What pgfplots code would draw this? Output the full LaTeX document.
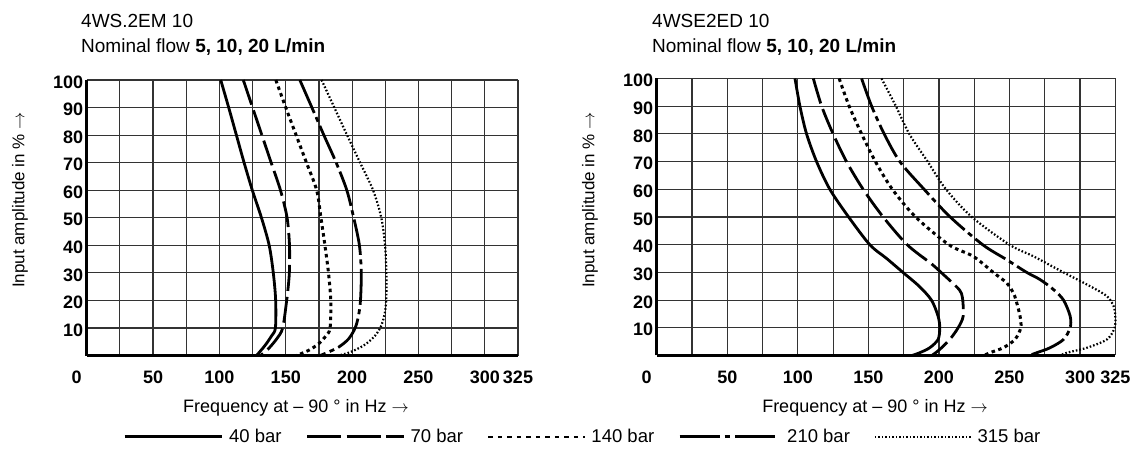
\documentclass[border=0pt]{standalone}
\usepackage{fontspec}
\setmainfont{Liberation Sans}
\usepackage{pgfplots}
\pgfplotsset{compat=1.18}

\pgfplotsset{
  rex/.style={
    scale only axis,
    axis x line=bottom, axis y line=left,
    axis line style={line width=3bp, black},
    every outer x axis line/.append style={-},
    every outer y axis line/.append style={-},
    xmin=0, xmax=325, ymin=0, ymax=100,
    xtick={0,25,...,325},
    xticklabels={\makebox[0pt][r]{0\hspace*{5bp}},,50,,100,,150,,200,,250,,300,325},
    ytick={10,20,...,100},
    yticklabels={10,20,30,40,50,60,70,80,90,100},
    grid=major,
    major grid style={line width=1.15bp, black!80},
    tick style={draw=none},
    major tick length=0pt,
    /pgf/number format/assume math mode=true,
    tick label style={font=\fontsize{18bp}{20bp}\selectfont\bfseries},
    xticklabel style={yshift=-12bp},
    yticklabel style={yshift=-2bp},
    clip=false,
  },
  b40/.style={black, line width=2.8bp, solid, smooth, tension=0.5},
  b70/.style={black, line width=2.8bp, dash pattern=on 26bp off 6bp, smooth, tension=0.5},
  b140/.style={black, line width=3bp, dash pattern=on 3.5bp off 3.5bp, smooth, tension=0.5},
  b210/.style={black, line width=2.8bp, dash pattern=on 36bp off 4.5bp on 5bp off 4.5bp, smooth, tension=0.5},
  b315/.style={black, line width=2.2bp, dash pattern=on 1.6bp off 2bp, smooth, tension=0.5},
}

\begin{document}
\begin{tikzpicture}
\path[use as bounding box] (0,0) rectangle (1138bp,451bp);

% ---------- left chart ----------
\begin{axis}[rex, name=L, at={(86.7bp,95.5bp)}, anchor=south west,
  width=431.3bp, height=275.5bp,
  legend columns=5,
  legend style={at={(0.0842,-0.2958)}, anchor=west, draw=none, fill=none,
    inner sep=0pt, font=\fontsize{18.5bp}{20bp}\selectfont,
    /tikz/every even column/.append style={column sep=22bp}},
  legend cell align=left,
]
\addplot[b40, legend image code/.code={\draw[line width=3bp] (0bp,0bp) -- (97bp,0bp);}] coordinates {
(101,100) (107,90) (112.8,80) (118.6,70) (124.8,60) (131.7,50) (137.5,40) (140.6,30) (142.4,20) (142.2,10) (139.4,7.2) (134.3,3.6) (128,0)};
\addlegendentry{\hspace*{4bp}40 bar}
\addplot[b70, legend image code/.code={\draw[line width=3bp, dash pattern=on 34bp off 5.5bp] (0bp,0bp) -- (97bp,0bp);}] coordinates {
(118,100) (125,90) (132,80) (139,70) (146,60) (151,50) (152.8,40) (152.7,30) (151.4,22.8) (150.7,20) (147.7,10) (143.1,6) (136.8,2.4) (131,0)};
\addlegendentry{\hspace*{3bp}70 bar}
\addplot[b140, legend image code/.code={\draw[line width=2.4bp, dash pattern=on 4.5bp off 5bp] (0bp,0bp) -- (97bp,0bp);}] coordinates {
(142.5,100) (150,90) (157.8,80) (165.6,70) (173.3,60) (176.5,50) (179.5,40) (182.2,30) (183.9,20) (183.4,10) (180.4,7.2) (174.6,4.2) (167,1.8) (158,0)};
\addlegendentry{\hspace*{3bp}140 bar}
\addplot[b210, legend image code/.code={\draw[line width=3bp, dash pattern=on 40bp off 5bp on 5.5bp off 5bp] (0bp,0bp) -- (97bp,0bp);}] coordinates {
(160.6,100) (169.7,90) (178.7,80) (188,70) (196,60) (201.2,50) (205.5,40) (206.9,30) (206.3,20) (204.8,14.4) (202.3,10) (197.3,6) (189.7,3) (180.9,1) (176,0)};
\addlegendentry{\hspace*{7bp}210 bar}
\addplot[b315, legend image code/.code={\draw[line width=1.6bp, dash pattern=on 1.5bp off 2bp] (0bp,0bp) -- (97bp,0bp);}] coordinates {
(177,100) (186.6,90) (196.2,80) (206,70) (215.8,60) (222,50) (224.8,40) (225.8,30) (225.7,20) (224.2,14.4) (221.2,10) (216.2,6.6) (208.6,3.6) (198.5,1.2) (190,0)};
\addlegendentry{\hspace*{3bp}315 bar}
\end{axis}

% ---------- right chart ----------
\begin{axis}[rex, name=R, at={(656.7bp,95.5bp)}, anchor=south west,
  width=458.6bp, height=277bp]
\addplot[b40] coordinates {
(98,100) (101.5,90) (106.2,80) (113.3,70) (122.7,60) (136,50) (151,40) (163,35) (174.5,30) (186,25) (194.7,20) (199.4,14.2) (200.6,10) (199.4,5.8) (193.5,2.8) (186.4,1) (181,0)};
\addplot[b70] coordinates {
(111,100) (116.9,90) (125,80) (134.5,70) (146.3,60) (160.5,50) (177.5,40) (194.7,33.1) (201.5,30) (209,26.5) (214.8,23.5) (216.7,20.8) (217.2,14.2) (213.6,10) (207.7,5.8) (200.6,2.2) (195,0)};
\addplot[b140] coordinates {
(129.3,100) (136.4,90) (145.2,80) (155,70) (167,60) (183.5,50) (207,40) (224.3,35.8) (238.5,30) (248,26.2) (252.7,22.6) (254.6,20) (257.5,14.2) (258,10) (253.9,5.8) (245.6,2.8) (236.1,1) (232,0)};
\addplot[b210] coordinates {
(145.2,100) (152.3,90) (161.2,80) (172.3,70) (189.5,60) (208,50) (231,40) (248,34.6) (262.2,30) (271.7,27.4) (281.2,23.8) (288.3,20) (293,14.2) (293,10) (288.3,5.8) (278.8,2.8) (269.3,1) (264,0)};
\addplot[b315] coordinates {
(159.3,100) (169.5,90) (179,80) (192,70) (205,60) (223.3,50) (250,40) (267,35.8) (288.3,30) (307.2,25) (319.1,21.4) (323.8,17.8) (325,14.2) (324.5,10) (319.1,5.8) (304.9,2.8) (290.7,1) (286,0)};
\end{axis}

% ---------- titles and axis labels ----------
\begin{scope}[every node/.style={inner sep=0pt}]
\node[anchor=base west, font=\fontsize{19bp}{22bp}\selectfont] at (81bp,423bp) {4WS.2EM 10};
\node[anchor=base west, font=\fontsize{19bp}{22bp}\selectfont] at (81bp,398.7bp) {Nominal flow \textbf{5, 10, 20 L/min}};
\node[anchor=base west, font=\fontsize{19bp}{22bp}\selectfont] at (652bp,423bp) {4WSE2ED 10};
\node[anchor=base west, font=\fontsize{19bp}{22bp}\selectfont] at (652bp,398.7bp) {Nominal flow \textbf{5, 10, 20 L/min}};

\node[rotate=90, font=\fontsize{17bp}{20bp}\selectfont] at (20bp,251bp) {Input amplitude in \% $\rightarrow$};
\node[rotate=90, font=\fontsize{17bp}{20bp}\selectfont] at (590bp,251bp) {Input amplitude in \% $\rightarrow$};

\node[anchor=base, font=\fontsize{18bp}{20bp}\selectfont] at (296bp,39bp) {Frequency at – 90 ° in Hz $\rightarrow$};
\node[anchor=base, font=\fontsize{18bp}{20bp}\selectfont] at (875bp,39bp) {Frequency at – 90 ° in Hz $\rightarrow$};
\end{scope}
\end{tikzpicture}
\end{document}
